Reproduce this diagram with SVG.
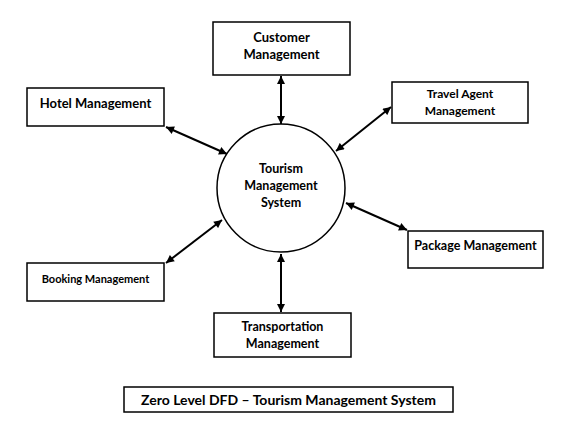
<svg xmlns="http://www.w3.org/2000/svg" width="572" height="437" viewBox="0 0 572 437">
<style>
.box{fill:#fff;stroke:#000;stroke-width:1.5}
.t{font-family:Lato,"Liberation Sans",sans-serif;font-weight:bold;fill:#000;text-anchor:middle}
.c{stroke:#000;stroke-width:2;fill:none;marker-start:url(#ah);marker-end:url(#ah)}
</style>
<defs>
<marker id="ah" viewBox="0 0 10 10" refX="10" refY="5" markerWidth="4.5" markerHeight="4" orient="auto-start-reverse" markerUnits="strokeWidth">
<path d="M0,0 L10,5 L0,10 z" fill="#000"/>
</marker>
</defs>
<rect width="572" height="437" fill="#fff"/>
<g id="connectors">
<line class="c" x1="281" y1="76" x2="281" y2="124"/>
<line class="c" x1="166" y1="127" x2="227" y2="154"/>
<line class="c" x1="391" y1="107" x2="336" y2="151"/>
<line class="c" x1="346" y1="203" x2="407" y2="230"/>
<line class="c" x1="166" y1="263" x2="222" y2="220"/>
<line class="c" x1="281" y1="254" x2="281" y2="312"/>
</g>
<g id="tms">
<circle cx="281" cy="188" r="64" class="box"/>
<text class="t" font-size="12.5" x="281" y="173">Tourism</text>
<text class="t" font-size="12.5" x="281" y="190">Management</text>
<text class="t" font-size="12.5" x="281" y="207">System</text>
</g>
<g id="customer">
<rect class="box" x="213" y="22" width="137" height="53"/>
<text class="t" font-size="13" x="281.5" y="42">Customer</text>
<text class="t" font-size="13" x="281.5" y="59">Management</text>
</g>
<g id="hotel">
<rect class="box" x="27" y="88" width="137" height="38"/>
<text class="t" font-size="13" x="95.5" y="108">Hotel Management</text>
</g>
<g id="travel">
<rect class="box" x="392" y="82" width="136" height="41"/>
<text class="t" font-size="12" x="460" y="98">Travel Agent</text>
<text class="t" font-size="12" x="460" y="115">Management</text>
</g>
<g id="package">
<rect class="box" x="408" y="231" width="135" height="37"/>
<text class="t" font-size="12.5" x="475.5" y="250">Package Management</text>
</g>
<g id="booking">
<rect class="box" x="27" y="263" width="137" height="38"/>
<text class="t" font-size="11" x="95.5" y="283">Booking Management</text>
</g>
<g id="transport">
<rect class="box" x="214" y="313" width="137" height="44"/>
<text class="t" font-size="12.5" x="282.5" y="331">Transportation</text>
<text class="t" font-size="12.5" x="282.5" y="348">Management</text>
</g>
<g id="title">
<rect class="box" x="124" y="387" width="329" height="25"/>
<text class="t" font-size="14" x="288.5" y="405">Zero Level DFD – Tourism Management System</text>
</g>
</svg>
